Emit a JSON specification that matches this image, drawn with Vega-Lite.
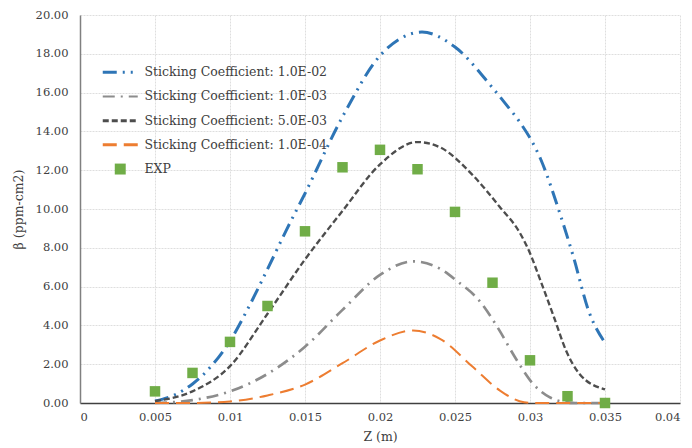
{
  "$schema": "https://vega.github.io/schema/vega-lite/v6.json",
  "width": 600,
  "height": 388,
  "autosize": {"type": "none"},
  "padding": {"left": 80, "top": 15, "right": 12, "bottom": 45},
  "background": "white",
  "config": {
    "view": {"stroke": null},
    "font": "DejaVu Serif",
    "axis": {"labelFont": "DejaVu Serif", "titleFont": "DejaVu Serif", "labelColor": "#404040", "titleColor": "#404040", "titleFontWeight": "normal", "labelFontSize": 11.5, "titleFontSize": 12.5, "gridColor": "#dedede", "gridWidth": 1, "gridDash": [2, 1], "ticks": false}
  },
  "data": {"values": [
    {"series": "Sticking Coefficient: 1.0E-02", "z": 0.005, "beta": 0.1},
    {"series": "Sticking Coefficient: 1.0E-02", "z": 0.00625, "beta": 0.4},
    {"series": "Sticking Coefficient: 1.0E-02", "z": 0.0075, "beta": 0.98},
    {"series": "Sticking Coefficient: 1.0E-02", "z": 0.00875, "beta": 1.9},
    {"series": "Sticking Coefficient: 1.0E-02", "z": 0.01, "beta": 3.2},
    {"series": "Sticking Coefficient: 1.0E-02", "z": 0.01125, "beta": 4.95},
    {"series": "Sticking Coefficient: 1.0E-02", "z": 0.0125, "beta": 6.9},
    {"series": "Sticking Coefficient: 1.0E-02", "z": 0.01375, "beta": 8.9},
    {"series": "Sticking Coefficient: 1.0E-02", "z": 0.015, "beta": 10.8},
    {"series": "Sticking Coefficient: 1.0E-02", "z": 0.0175, "beta": 14.75},
    {"series": "Sticking Coefficient: 1.0E-02", "z": 0.02, "beta": 17.9},
    {"series": "Sticking Coefficient: 1.0E-02", "z": 0.0215, "beta": 18.85},
    {"series": "Sticking Coefficient: 1.0E-02", "z": 0.0228, "beta": 19.12},
    {"series": "Sticking Coefficient: 1.0E-02", "z": 0.025, "beta": 18.35},
    {"series": "Sticking Coefficient: 1.0E-02", "z": 0.0275, "beta": 16.25},
    {"series": "Sticking Coefficient: 1.0E-02", "z": 0.0286, "beta": 15.2},
    {"series": "Sticking Coefficient: 1.0E-02", "z": 0.0293, "beta": 14.5},
    {"series": "Sticking Coefficient: 1.0E-02", "z": 0.0307, "beta": 12.59},
    {"series": "Sticking Coefficient: 1.0E-02", "z": 0.032, "beta": 9.75},
    {"series": "Sticking Coefficient: 1.0E-02", "z": 0.0329, "beta": 7.52},
    {"series": "Sticking Coefficient: 1.0E-02", "z": 0.0339, "beta": 4.77},
    {"series": "Sticking Coefficient: 1.0E-02", "z": 0.035, "beta": 3.1},
    {"series": "Sticking Coefficient: 1.0E-03", "z": 0.005, "beta": 0.0},
    {"series": "Sticking Coefficient: 1.0E-03", "z": 0.0075, "beta": 0.15},
    {"series": "Sticking Coefficient: 1.0E-03", "z": 0.01, "beta": 0.6},
    {"series": "Sticking Coefficient: 1.0E-03", "z": 0.0125, "beta": 1.5},
    {"series": "Sticking Coefficient: 1.0E-03", "z": 0.015, "beta": 2.9},
    {"series": "Sticking Coefficient: 1.0E-03", "z": 0.0175, "beta": 4.8},
    {"series": "Sticking Coefficient: 1.0E-03", "z": 0.02, "beta": 6.6},
    {"series": "Sticking Coefficient: 1.0E-03", "z": 0.0222, "beta": 7.3},
    {"series": "Sticking Coefficient: 1.0E-03", "z": 0.024, "beta": 6.92},
    {"series": "Sticking Coefficient: 1.0E-03", "z": 0.0251, "beta": 6.31},
    {"series": "Sticking Coefficient: 1.0E-03", "z": 0.0267, "beta": 5.2},
    {"series": "Sticking Coefficient: 1.0E-03", "z": 0.0279, "beta": 3.82},
    {"series": "Sticking Coefficient: 1.0E-03", "z": 0.029, "beta": 2.36},
    {"series": "Sticking Coefficient: 1.0E-03", "z": 0.0302, "beta": 0.99},
    {"series": "Sticking Coefficient: 1.0E-03", "z": 0.0313, "beta": 0.3},
    {"series": "Sticking Coefficient: 1.0E-03", "z": 0.0323, "beta": 0.05},
    {"series": "Sticking Coefficient: 1.0E-03", "z": 0.033, "beta": 0.0},
    {"series": "Sticking Coefficient: 1.0E-03", "z": 0.035, "beta": 0.0},
    {"series": "Sticking Coefficient: 5.0E-03", "z": 0.005, "beta": 0.1},
    {"series": "Sticking Coefficient: 5.0E-03", "z": 0.0075, "beta": 0.6},
    {"series": "Sticking Coefficient: 5.0E-03", "z": 0.01, "beta": 1.9},
    {"series": "Sticking Coefficient: 5.0E-03", "z": 0.0125, "beta": 4.6},
    {"series": "Sticking Coefficient: 5.0E-03", "z": 0.015, "beta": 7.4},
    {"series": "Sticking Coefficient: 5.0E-03", "z": 0.0175, "beta": 9.9},
    {"series": "Sticking Coefficient: 5.0E-03", "z": 0.02, "beta": 12.3},
    {"series": "Sticking Coefficient: 5.0E-03", "z": 0.0225, "beta": 13.45},
    {"series": "Sticking Coefficient: 5.0E-03", "z": 0.024, "beta": 13.18},
    {"series": "Sticking Coefficient: 5.0E-03", "z": 0.0262, "beta": 11.73},
    {"series": "Sticking Coefficient: 5.0E-03", "z": 0.028, "beta": 10.09},
    {"series": "Sticking Coefficient: 5.0E-03", "z": 0.0293, "beta": 8.8},
    {"series": "Sticking Coefficient: 5.0E-03", "z": 0.0299, "beta": 7.9},
    {"series": "Sticking Coefficient: 5.0E-03", "z": 0.0307, "beta": 6.31},
    {"series": "Sticking Coefficient: 5.0E-03", "z": 0.0316, "beta": 4.42},
    {"series": "Sticking Coefficient: 5.0E-03", "z": 0.0324, "beta": 2.71},
    {"series": "Sticking Coefficient: 5.0E-03", "z": 0.0333, "beta": 1.5},
    {"series": "Sticking Coefficient: 5.0E-03", "z": 0.035, "beta": 0.7},
    {"series": "Sticking Coefficient: 1.0E-04", "z": 0.005, "beta": 0.0},
    {"series": "Sticking Coefficient: 1.0E-04", "z": 0.0075, "beta": 0.0},
    {"series": "Sticking Coefficient: 1.0E-04", "z": 0.01, "beta": 0.08},
    {"series": "Sticking Coefficient: 1.0E-04", "z": 0.0125, "beta": 0.39},
    {"series": "Sticking Coefficient: 1.0E-04", "z": 0.015, "beta": 0.95},
    {"series": "Sticking Coefficient: 1.0E-04", "z": 0.0175, "beta": 2.05},
    {"series": "Sticking Coefficient: 1.0E-04", "z": 0.02, "beta": 3.22},
    {"series": "Sticking Coefficient: 1.0E-04", "z": 0.0222, "beta": 3.74},
    {"series": "Sticking Coefficient: 1.0E-04", "z": 0.024, "beta": 3.31},
    {"series": "Sticking Coefficient: 1.0E-04", "z": 0.0262, "beta": 1.85},
    {"series": "Sticking Coefficient: 1.0E-04", "z": 0.028, "beta": 0.64},
    {"series": "Sticking Coefficient: 1.0E-04", "z": 0.0296, "beta": 0.04},
    {"series": "Sticking Coefficient: 1.0E-04", "z": 0.0305, "beta": 0.0},
    {"series": "Sticking Coefficient: 1.0E-04", "z": 0.035, "beta": 0.0},
    {"series": "EXP", "z": 0.005, "beta": 0.6},
    {"series": "EXP", "z": 0.0075, "beta": 1.55},
    {"series": "EXP", "z": 0.01, "beta": 3.15},
    {"series": "EXP", "z": 0.0125, "beta": 5.0},
    {"series": "EXP", "z": 0.015, "beta": 8.85},
    {"series": "EXP", "z": 0.0175, "beta": 12.15},
    {"series": "EXP", "z": 0.02, "beta": 13.05},
    {"series": "EXP", "z": 0.0225, "beta": 12.05},
    {"series": "EXP", "z": 0.025, "beta": 9.85},
    {"series": "EXP", "z": 0.0275, "beta": 6.2},
    {"series": "EXP", "z": 0.03, "beta": 2.2},
    {"series": "EXP", "z": 0.0325, "beta": 0.35},
    {"series": "EXP", "z": 0.035, "beta": 0.0}
  ]},
  "encoding": {
    "x": {"field": "z", "type": "quantitative", "scale": {"domain": [0, 0.04], "nice": false, "zero": false},
      "axis": {"title": "Z (m)", "values": [0, 0.005, 0.01, 0.015, 0.02, 0.025, 0.03, 0.035, 0.04], "format": ".3~f", "labelPadding": 8, "titlePadding": 8, "domainColor": "#404040", "domainWidth": 1.5}},
    "y": {"field": "beta", "type": "quantitative", "scale": {"domain": [0, 20], "nice": false},
      "axis": {"title": "β (ppm-cm2)", "values": [0, 2, 4, 6, 8, 10, 12, 14, 16, 18, 20], "format": ".2f", "labelPadding": 12, "titlePadding": 10, "domainColor": "#808080", "domainWidth": 1.5}},
    "color": {"field": "series", "type": "nominal",
      "scale": {"domain": ["Sticking Coefficient: 1.0E-02", "Sticking Coefficient: 1.0E-03", "Sticking Coefficient: 5.0E-03", "Sticking Coefficient: 1.0E-04", "EXP"],
                "range": ["#2E75B6", "#8C8C8C", "#4D4D4D", "#ED7D31", "#70AD47"]},
      "legend": {"title": null, "orient": "none", "legendX": 34, "legendY": 51, "labelFont": "DejaVu Serif", "labelFontSize": 12.5, "labelColor": "#404040", "symbolSize": 1225, "symbolType": "stroke", "rowPadding": 11.2, "labelOffset": 18, "labelLimit": 300,
        "encode": {"symbols": {"update": {
          "shape": {"signal": "datum.value === 'EXP' ? 'square' : 'stroke'"},
          "size": {"signal": "datum.value === 'EXP' ? 120 : 1225"},
          "strokeWidth": {"signal": "datum.value === 'EXP' ? 0 : (datum.value === 'Sticking Coefficient: 1.0E-03' ? 2 : 3)"},
          "fill": {"signal": "datum.value === 'EXP' ? '#70AD47' : 'transparent'"},
          "opacity": {"value": 1}
        }}}}
    }
  },
  "layer": [
    {
      "transform": [{"filter": "datum.series !== 'EXP'"}],
      "mark": {"type": "line", "interpolate": "monotone"},
      "encoding": {
        "strokeDash": {"field": "series", "type": "nominal",
          "scale": {"domain": ["Sticking Coefficient: 1.0E-02", "Sticking Coefficient: 1.0E-03", "Sticking Coefficient: 5.0E-03", "Sticking Coefficient: 1.0E-04", "EXP"],
                    "range": [[14, 6, 2, 6, 2, 6], [12, 6, 2, 6], [6, 3], [14, 7], [1, 0]]}},
        "strokeWidth": {"field": "series", "type": "nominal",
          "scale": {"domain": ["Sticking Coefficient: 1.0E-02", "Sticking Coefficient: 1.0E-03", "Sticking Coefficient: 5.0E-03", "Sticking Coefficient: 1.0E-04"],
                    "range": [3, 2, 3.5, 2.5]}, "legend": null}
      }
    },
    {
      "transform": [{"filter": "datum.series === 'EXP'"}],
      "mark": {"type": "point", "shape": "square", "filled": true, "size": 110, "opacity": 1}
    }
  ]
}
